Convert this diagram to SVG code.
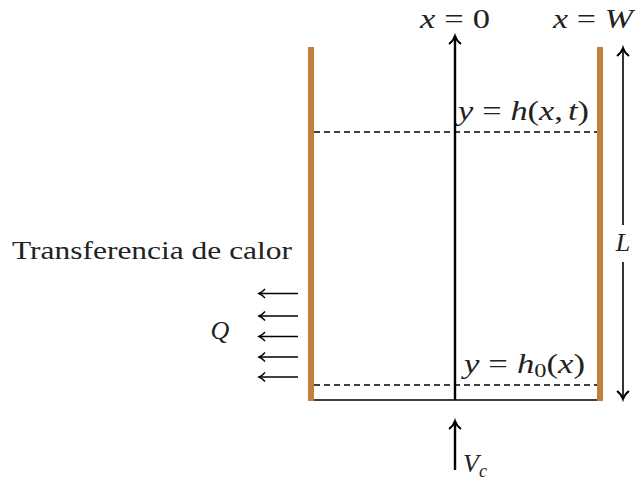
<svg xmlns="http://www.w3.org/2000/svg" width="635" height="484" viewBox="0 0 635 484">
<defs>
<style>
.wall{stroke:#c17f3e;stroke-width:6;fill:none}
.ln{stroke:#000;stroke-width:1.6;fill:none}
.ax{stroke:#000;stroke-width:2.4;fill:none}
.dash{stroke:#000;stroke-width:1.4;stroke-dasharray:6 4;fill:none}
text{font-family:'Liberation Serif','Times New Roman',serif;fill:#222;font-size:26px}
.m{font-size:27px}
.i{font-style:italic}
</style>
<marker id="ah" markerUnits="userSpaceOnUse" orient="auto" overflow="visible" refX="0" refY="0" markerWidth="10" markerHeight="10">
<path d="M-8,-6 C-5,-2 -1.5,-0.5 0,0 C-1.5,0.5 -5,2 -8,6" fill="none" stroke="#000" stroke-width="2"/>
</marker>
<marker id="ahs" markerUnits="userSpaceOnUse" orient="auto" overflow="visible" refX="0" refY="0" markerWidth="10" markerHeight="10">
<path d="M-6,-4.5 C-3.5,-1.5 -1,-0.4 0,0 C-1,0.4 -3.5,1.5 -6,4.5" fill="none" stroke="#000" stroke-width="1.4"/>
</marker>
</defs>
<g id="container">
<line class="wall" x1="311" y1="47" x2="311" y2="401"/>
<line class="wall" x1="600" y1="47" x2="600" y2="401"/>
<line class="ln" x1="314" y1="400" x2="597" y2="400"/>
</g>
<g id="levels">
<line class="dash" x1="314" y1="132" x2="597" y2="132"/>
<line class="dash" x1="314" y1="385" x2="597" y2="385"/>
<text class="m" x="458" y="120" textLength="131" lengthAdjust="spacingAndGlyphs"><tspan class="i">y</tspan><tspan dx="7">=</tspan><tspan class="i" dx="7">h</tspan>(<tspan class="i">x</tspan>,<tspan class="i" dx="4">t</tspan>)</text>
<text class="m" x="464" y="373" textLength="121" lengthAdjust="spacingAndGlyphs"><tspan class="i">y</tspan><tspan dx="7">=</tspan><tspan class="i" dx="7">h</tspan><tspan font-size="19" dy="4">0</tspan><tspan dy="-4">(</tspan><tspan class="i">x</tspan>)</text>
</g>
<g id="connectors">
<line class="ax" x1="455" y1="400" x2="455" y2="36" marker-end="url(#ah)"/>
<line class="ax" x1="455" y1="470" x2="455" y2="421" marker-end="url(#ah)"/>
<line class="ln" x1="623" y1="225" x2="623" y2="48" marker-end="url(#ah)"/>
<line class="ln" x1="623" y1="262" x2="623" y2="399" marker-end="url(#ah)"/>
<line class="ln" stroke-width="1.3" x1="298" y1="293.5" x2="259" y2="293.5" marker-end="url(#ahs)"/>
<line class="ln" stroke-width="1.3" x1="298" y1="316" x2="259" y2="316" marker-end="url(#ahs)"/>
<line class="ln" stroke-width="2.2" x1="298" y1="336.5" x2="259" y2="336.5" marker-end="url(#ahs)"/>
<line class="ln" stroke-width="1.3" x1="298" y1="357" x2="259" y2="357" marker-end="url(#ahs)"/>
<line class="ln" stroke-width="1.3" x1="298" y1="377" x2="259" y2="377" marker-end="url(#ahs)"/>
</g>
<g id="labels">
<text class="m" x="420" y="28" textLength="70" lengthAdjust="spacingAndGlyphs"><tspan class="i">x</tspan><tspan dx="7">=</tspan><tspan dx="7">0</tspan></text>
<text class="m" x="553" y="28" textLength="80" lengthAdjust="spacingAndGlyphs"><tspan class="i">x</tspan><tspan dx="7">=</tspan><tspan class="i" dx="7">W</tspan></text>
<text x="623" y="251" text-anchor="middle" class="i">L</text>
<text x="12" y="259" textLength="280" lengthAdjust="spacingAndGlyphs">Transferencia de calor</text>
<text x="220" y="339" text-anchor="middle" class="i" font-size="28">Q</text>
<text x="463" y="472" class="i">V<tspan font-size="18" dy="5">c</tspan></text>
</g>
</svg>
